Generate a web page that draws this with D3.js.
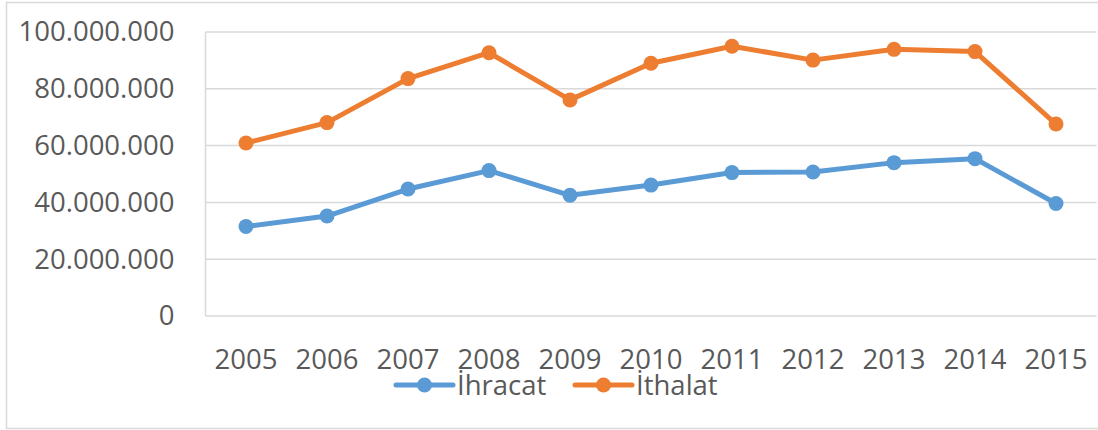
<!DOCTYPE html>
<html>
<head>
<meta charset="utf-8">
<script src="https://cdn.jsdelivr.net/npm/d3@7"></script>
<style>
  body { margin: 0; background: #fff; }
  svg { display: block; }
  text { font-family: "Open Sans", sans-serif; fill: #595959; }
</style>
</head>
<body>
<div id="chart"></div>
<script>
// yearly values
const years = ['2005', '2006', '2007', '2008', '2009', '2010', '2011', '2012', '2013', '2014', '2015'];
const ihracat = [31500000, 35200000, 44700000, 51200000, 42500000, 46100000, 50500000, 50700000, 54000000, 55400000, 39600000];
const ithalat = [60900000, 68100000, 83600000, 92700000, 76100000, 89000000, 95000000, 90100000, 93900000, 93100000, 67600000];
const yTicks = [0, 20000000, 40000000, 60000000, 80000000, 100000000];

const seriesList = [
  { name: 'İhracat', values: ihracat, color: '#5B9BD5' },
  { name: 'İthalat', values: ithalat, color: '#ED7D31' }
];

const W = 1098, H = 430;
const plot = { left: 205.5, right: 1096.5, top: 32, bottom: 316 };

const svg = d3.select('#chart').append('svg')
  .attr('width', W).attr('height', H);

// outer chart border
svg.append('rect')
  .attr('x', 6.5).attr('y', 2.5)
  .attr('width', W).attr('height', 426)
  .attr('fill', 'none').attr('stroke', '#d9d9d9').attr('stroke-width', 1.5);

const x = d3.scaleBand().domain(years).range([plot.left, plot.right]);
const y = d3.scaleLinear().domain([0, 100000000]).range([plot.bottom, plot.top]);

const fmt = v => d3.format(',')(v).replace(/,/g, '.');

// gridlines
svg.append('g').selectAll('line').data(yTicks).join('line')
  .attr('x1', plot.left).attr('x2', plot.right)
  .attr('y1', d => y(d)).attr('y2', d => y(d))
  .attr('stroke', '#d9d9d9').attr('stroke-width', 1.5);

// left vertical line
svg.append('line')
  .attr('x1', plot.left).attr('x2', plot.left)
  .attr('y1', plot.top).attr('y2', plot.bottom)
  .attr('stroke', '#d9d9d9').attr('stroke-width', 1.5);

// y axis labels
const yAxis = d3.axisLeft(y).tickValues(yTicks).tickFormat(fmt).tickSize(0).tickPadding(31);
const gy = svg.append('g').attr('transform', `translate(${plot.left},0)`).call(yAxis);
gy.select('.domain').remove();
gy.selectAll('text').attr('font-size', 27.5).attr('font-family', '"Open Sans", sans-serif').attr('fill', '#595959').attr('dy', '0.32em');

// x axis labels
const xAxis = d3.axisBottom(x).tickSize(0).tickPadding(0);
const gx = svg.append('g').attr('transform', `translate(0,${plot.bottom})`).call(xAxis);
gx.select('.domain').remove();
gx.selectAll('text').attr('font-size', 27.5).attr('font-family', '"Open Sans", sans-serif').attr('fill', '#595959')
  .attr('dy', null).attr('y', 53);

const cx = d => x(d) + x.bandwidth() / 2;
const line = d3.line().x((d, i) => cx(years[i])).y(d => y(d));

seriesList.forEach(s => {
  const g = svg.append('g');
  g.append('path').datum(s.values)
    .attr('d', line)
    .attr('fill', 'none').attr('stroke', s.color)
    .attr('stroke-width', 5).attr('stroke-linejoin', 'round');
  g.selectAll('circle').data(s.values).join('circle')
    .attr('cx', (d, i) => cx(years[i])).attr('cy', d => y(d))
    .attr('r', 7.5).attr('fill', s.color);
});

// legend
const legendX = [396, 575];
const legendY = 385;
seriesList.forEach((s, i) => {
  const lg = svg.append('g').attr('transform', `translate(${legendX[i]},${legendY})`);
  lg.append('line').attr('x1', 0).attr('x2', 57).attr('y1', 0).attr('y2', 0)
    .attr('stroke', s.color).attr('stroke-width', 5).attr('stroke-linecap', 'round');
  lg.append('circle').attr('cx', 28.5).attr('cy', 0).attr('r', 7.5).attr('fill', s.color);
  lg.append('text').attr('x', 61).attr('y', 9.5)
    .attr('font-size', 27.5).text(s.name);
});
</script>
</body>
</html>
